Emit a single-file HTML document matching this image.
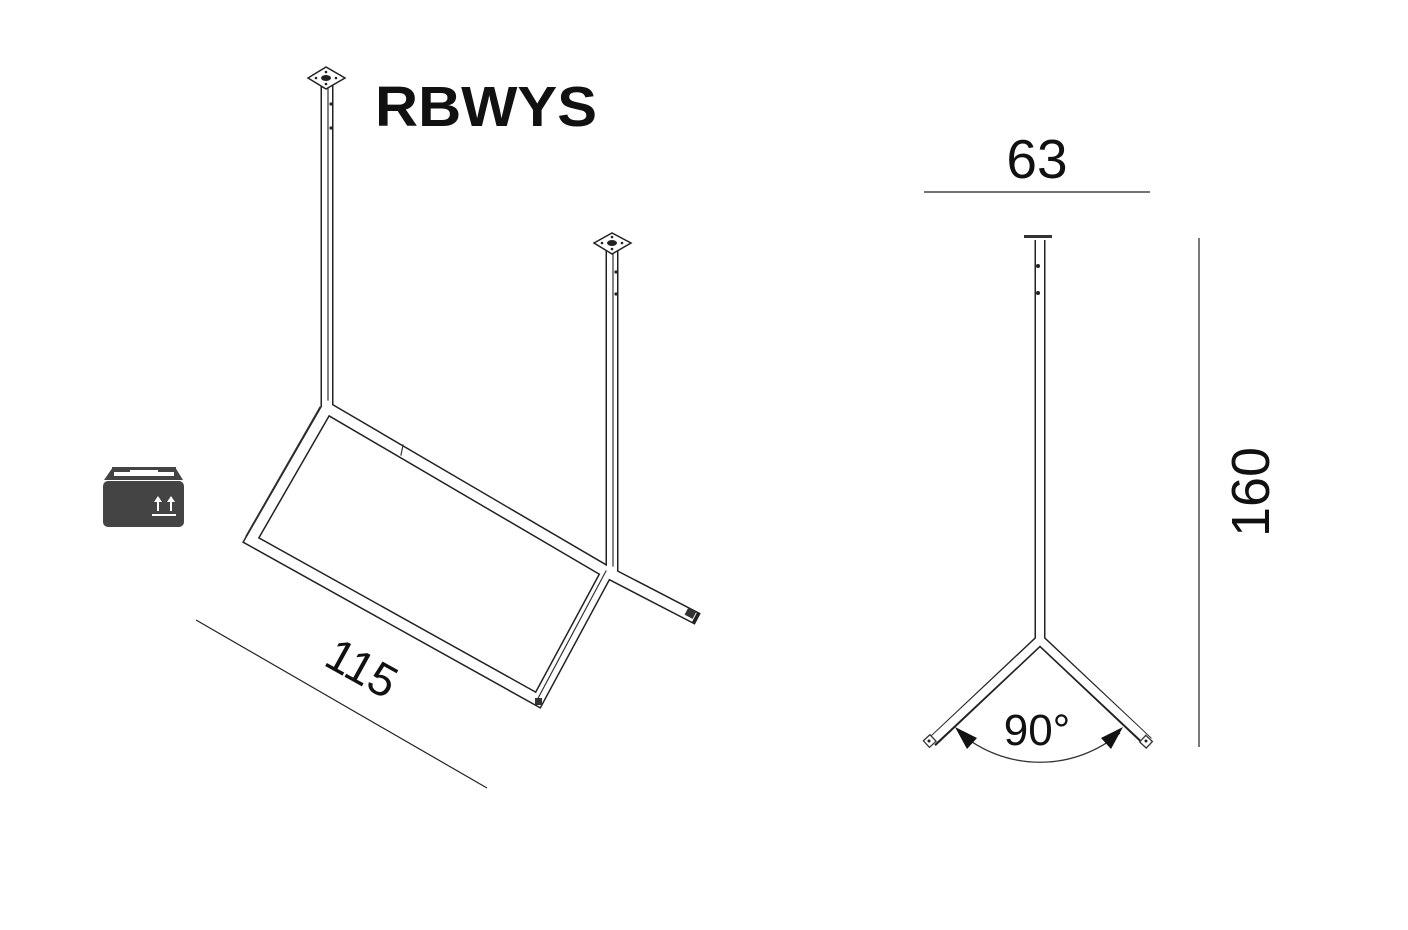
<!DOCTYPE html>
<html><head><meta charset="utf-8"><style>
html,body{margin:0;padding:0;background:#fff;}
svg{display:block;}
text{font-family:"Liberation Sans",Arial,sans-serif;fill:#111;}
</style></head><body>
<svg width="1408" height="930" viewBox="0 0 1408 930" xmlns="http://www.w3.org/2000/svg">
<rect width="1408" height="930" fill="#fff"/>
<g fill="none" stroke-linecap="square" stroke-linejoin="miter">
  <g stroke="#222" stroke-width="13">
    <line x1="327" y1="86" x2="327" y2="408"/>
    <line x1="612" y1="252" x2="612" y2="572"/>
    <polyline points="327,408 251,540 538,700 607,572 327,408"/>
    <line x1="607" y1="572" x2="692" y2="616"/>
  </g>
  <g stroke="#fff" stroke-width="10">
    <line x1="327" y1="86" x2="327" y2="408"/>
    <line x1="612" y1="252" x2="612" y2="572"/>
    <polyline points="327,408 251,540 538,700 607,572 327,408"/>
    <line x1="607" y1="572" x2="690" y2="615"/>
  </g>
  <line x1="328" y1="88" x2="328" y2="400" stroke="#333" stroke-width="1.2"/>
  <line x1="613" y1="254" x2="613" y2="566" stroke="#333" stroke-width="1.2"/>
  <line x1="320" y1="407" x2="246" y2="536" stroke="#333" stroke-width="1.2"/>
  <line x1="606" y1="571" x2="536" y2="702" stroke="#333" stroke-width="1.2"/>
  <line x1="403" y1="445" x2="401" y2="455" stroke="#333" stroke-width="1.2"/>
</g>
<rect x="686" y="609" width="9" height="8" fill="#333" transform="rotate(28 690 613)"/>
<rect x="535" y="698" width="7" height="7" fill="#333"/>
<circle cx="331" cy="104" r="1.6" fill="#222"/><circle cx="331" cy="128" r="1.6" fill="#222"/>
<circle cx="616" cy="272" r="1.6" fill="#222"/><circle cx="616" cy="294" r="1.6" fill="#222"/>
<g stroke="#222" stroke-width="1.5" fill="#fff">
  <polygon points="308,78 326,67 345,78 326,89"/>
  <polygon points="594,243 612,233 631,243 612,254"/>
</g>
<g fill="#222">
  <ellipse cx="326" cy="78" rx="5" ry="3"/>
  <circle cx="316" cy="78" r="1.3"/><circle cx="336" cy="78" r="1.3"/><circle cx="326" cy="72" r="1.3"/><circle cx="326" cy="84" r="1.3"/>
  <ellipse cx="612" cy="243" rx="5" ry="3"/>
  <circle cx="602" cy="243" r="1.3"/><circle cx="622" cy="243" r="1.3"/><circle cx="612" cy="237" r="1.3"/><circle cx="612" cy="249" r="1.3"/>
</g>
<text x="375" y="126" font-size="57" font-weight="bold" textLength="222" lengthAdjust="spacingAndGlyphs">RBWYS</text>
<line x1="196" y1="620" x2="487" y2="788" stroke="#222" stroke-width="1.2"/>
<text x="362" y="684" font-size="46" text-anchor="middle" transform="rotate(29 362 668)">115</text>
<g>
  <path d="M113,467 H175 L183,480 H104 Z" fill="#444"/>
  <rect x="114" y="470" width="60" height="6" fill="#fff"/>
  <rect x="103" y="481" width="81" height="46" rx="5" fill="#444"/>
  <rect x="112" y="467" width="18" height="5" fill="#444"/><rect x="158" y="467" width="18" height="5" fill="#444"/>
  <path d="M158,496 l-4,6 h3 v9 h2 v-9 h3 z M171,496 l-4,6 h3 v9 h2 v-9 h3 z" fill="#fff"/>
  <rect x="152" y="514" width="24" height="2" fill="#fff"/>
</g>
<text x="1037" y="178" font-size="55" text-anchor="middle">63</text>
<line x1="924" y1="192" x2="1150" y2="192" stroke="#222" stroke-width="1.2"/>
<line x1="1199" y1="238" x2="1199" y2="747" stroke="#222" stroke-width="1.2"/>
<text x="0" y="0" font-size="54" text-anchor="middle" transform="translate(1269 492) rotate(-90)">160</text>
<g fill="none">
  <g stroke="#222" stroke-width="11">
    <polyline points="932,742 1040,640 1148,742"/>
    <line x1="1040" y1="240" x2="1040" y2="640"/>
  </g>
  <g stroke="#fff" stroke-width="8">
    <polyline points="930,743 1040,640 1150,743"/>
    <line x1="1040" y1="238" x2="1040" y2="640"/>
  </g>
</g>
<rect x="1024" y="235" width="28" height="3" fill="#333"/>
<circle cx="1038" cy="266" r="2" fill="#222"/><circle cx="1038" cy="293" r="2" fill="#222"/>
<g stroke="#333" stroke-width="1.3" fill="#fff">
  <rect x="925" y="737" width="9" height="9" transform="rotate(-43 929 741)"/>
  <rect x="1142" y="737" width="9" height="9" transform="rotate(43 1146 741)"/>
</g>
<circle cx="929" cy="741" r="1.5" fill="#222"/><circle cx="1146" cy="741" r="1.5" fill="#222"/>
<path d="M960,733 A124,124 0 0 0 1120,733" fill="none" stroke="#333" stroke-width="1.3"/>
<polygon points="955,727 977,738 967,749" fill="#111"/>
<polygon points="1123,727 1101,738 1111,749" fill="#111"/>
<text x="1037" y="745" font-size="44" text-anchor="middle">90°</text>
</svg>
</body></html>
